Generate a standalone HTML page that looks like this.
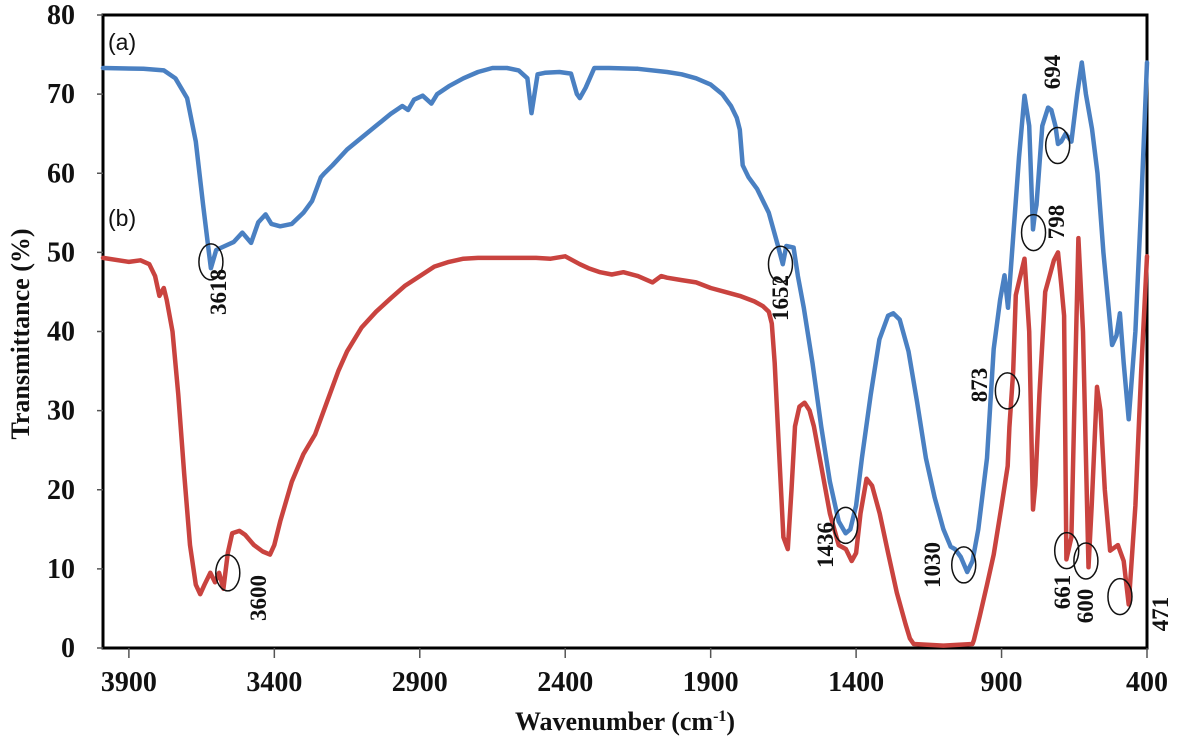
<!DOCTYPE html>
<html><head><meta charset="utf-8"><style>
body{margin:0;background:#fff;}
svg{display:block;}
.tick{font-family:"Liberation Serif",serif;font-weight:bold;font-size:28px;fill:#111;}
.ann{font-family:"Liberation Serif",serif;font-weight:bold;font-size:23px;fill:#111;}
.ttl{font-family:"Liberation Serif",serif;font-weight:bold;font-size:26px;fill:#111;}
.lab{font-family:"Liberation Sans",sans-serif;font-size:23px;fill:#111;}
</style></head><body>
<svg id="chart" width="1181" height="745" viewBox="0 0 1181 745">
<g id="grid"></g>
<g id="series"></g>
<g id="annots"></g>
</svg>
<script>
const xTicks=[3900,3400,2900,2400,1900,1400,900,400];
const yTicks=[0,10,20,30,40,50,60,70,80];
const waveA=[3989,3850,3780,3740,3700,3670,3645,3625,3618,3600,3570,3540,3510,3480,3455,3430,3410,3380,3340,3300,3270,3240,3228,3200,3150,3100,3050,3000,2960,2940,2920,2890,2860,2840,2800,2750,2700,2650,2600,2560,2530,2516,2495,2470,2420,2380,2360,2350,2330,2300,2250,2150,2050,2000,1950,1900,1860,1830,1810,1800,1790,1770,1740,1700,1670,1652,1640,1615,1600,1580,1550,1520,1490,1460,1436,1420,1400,1380,1350,1320,1290,1272,1250,1220,1190,1160,1130,1100,1075,1060,1040,1018,1000,980,950,927,905,890,878,860,840,821,805,792,785,780,760,740,729,715,706,695,680,660,640,624,610,589,570,550,520,505,493,480,463,440,420,400];
const valA=[73.3,73.2,73.0,72.0,69.5,64,56,50,48,50.3,50.8,51.3,52.5,51.2,53.8,54.8,53.6,53.3,53.6,55,56.5,59.5,60,61,63,64.5,66,67.5,68.5,68,69.3,69.8,68.8,70,71,72,72.8,73.3,73.3,73,72,67.6,72.5,72.7,72.8,72.6,70,69.5,70.8,73.3,73.3,73.2,72.8,72.5,72,71.2,70,68.5,67,65.5,61,59.5,58,55,51,48.5,50.8,50.6,47,43,36,28,21,16,14.5,15,18,24,32,39,42,42.3,41.5,37.5,31,24,19,15,12.8,12.5,11.5,9.6,11,15,24,37.8,44,47.1,43,52,62,69.8,66,52.9,55,56,66,68.3,68,66,63.7,64,65,64,70,74,70,65.6,60,50,38.3,39.5,42.3,36,28.9,40,56,74];
const waveB=[3989,3900,3860,3830,3810,3795,3780,3770,3750,3730,3710,3690,3670,3655,3640,3620,3604,3590,3575,3560,3545,3520,3500,3470,3440,3415,3400,3380,3340,3300,3260,3220,3180,3150,3100,3050,3000,2950,2900,2850,2800,2750,2700,2600,2500,2450,2400,2350,2320,2280,2240,2200,2150,2100,2070,2050,2000,1950,1900,1850,1800,1750,1720,1700,1690,1680,1665,1650,1635,1622,1610,1595,1577,1560,1545,1520,1490,1460,1435,1415,1400,1385,1364,1345,1319,1290,1260,1230,1215,1202,1100,1000,995,975,950,927,900,879,873,860,851,821,805,792,784,770,750,720,706,695,685,677,660,650,636,620,601,590,572,560,545,527,500,480,463,440,420,400];
const valB=[49.3,48.8,49,48.5,47,44.5,45.5,44,40,32,22,13,8,6.8,8,9.5,8.3,9.5,7.5,12,14.5,14.8,14.3,13,12.2,11.8,13,16,21,24.5,27,31,35,37.5,40.5,42.5,44.2,45.8,47,48.2,48.8,49.2,49.3,49.3,49.3,49.2,49.5,48.5,48,47.5,47.2,47.5,47,46.2,47,46.8,46.5,46.2,45.5,45,44.5,43.8,43.2,42.5,41,36,25,14,12.5,20,28,30.5,31,30,28,23,17,13,12.5,11,12,17,21.4,20.5,17,12,7,3,1.2,0.5,0.3,0.5,1,4,8,11.8,18,23,27.9,35,44.6,49.2,40,17.5,20.6,32,45,49,50,46,42,11.2,14,30,51.8,40,10.2,18,33,30,20,12.3,13,11,5.5,18,35,49.5];
const annVals=[{v:3618,t:48.8,label:"3618",lx:218,ly:292},{v:3560,t:9.5,label:"3600",lx:258,ly:598},{v:1660,t:48.5,label:"1652",lx:780,ly:298},{v:1436,t:15.5,label:"1436",lx:825,ly:545},{v:1030,t:10.5,label:"1030",lx:932,ly:565},{v:880,t:32.5,label:"873",lx:979,ly:385},{v:790,t:52.5,label:"798",lx:1056,ly:222},{v:707,t:63.5,label:"694",lx:1052,ly:72},{v:676,t:12.3,label:"661",lx:1062,ly:592},{v:610,t:11,label:"600",lx:1085,ly:606},{v:493,t:6.5,label:"471",lx:1160,ly:614}];
const X0=103,X1=1147,Y0=648,YT=15;
function xs(v){return X1-(v-400)*(X1-X0)/(3989-400);}
function ys(t){return Y0-t*(Y0-YT)/80;}
const NS="http://www.w3.org/2000/svg";
function mk(tag,parent,attrs){const e=document.createElementNS(NS,tag);for(const k in attrs)e.setAttribute(k,attrs[k]);parent.appendChild(e);return e;}
const grid=document.getElementById('grid'),ser=document.getElementById('series'),ann=document.getElementById('annots');
const frame=mk('rect',grid,{x:X0,y:YT,width:X1-X0,height:Y0-YT,fill:'none',stroke:'#000','stroke-width':3});


yTicks.forEach(t=>{
 const l=mk('line',grid,{x1:X0-6,x2:X0,y1:ys(t),y2:ys(t),stroke:'#555','stroke-width':1.5});
 
 
 const tx=mk('text',grid,{x:X0-28,y:ys(t)+9,'text-anchor':'end',class:'tick'});tx.textContent=t;
 
 
});
xTicks.forEach(v=>{
 const l=mk('line',grid,{x1:xs(v),x2:xs(v),y1:Y0,y2:Y0+10,stroke:'#555','stroke-width':1.5});
 
 
 const tx=mk('text',grid,{x:xs(v),y:Y0+43,'text-anchor':'middle',class:'tick'});tx.textContent=v;
 
 
});
const xt=mk('text',grid,{x:625,y:730,'text-anchor':'middle',class:'ttl'});
xt.innerHTML='Wavenumber  (cm<tspan dy="-9" font-size="16">-1</tspan><tspan dy="9">)</tspan>';


const yt=mk('text',grid,{x:0,y:0,'text-anchor':'middle',class:'ttl',transform:'translate(29,334) rotate(-90)'});
yt.textContent='Transmittance  (%)';


function line(w,v,col,name){
 const pts=w.map((a,i)=>xs(a).toFixed(1)+','+ys(v[i]).toFixed(1)).join(' ');
 const p=mk('polyline',ser,{points:pts,fill:'none',stroke:col,'stroke-width':4.5,'stroke-linejoin':'round','stroke-linecap':'round'});
 
 
}
line(waveB,valB,'#c9433f','series-b-line');
line(waveA,valA,'#4a80c2','series-a-line');
const la=mk('text',ann,{x:108,y:50,class:'lab'});la.textContent='(a)';


const lb=mk('text',ann,{x:108,y:226,class:'lab'});lb.textContent='(b)';


annVals.forEach(a=>{
 const c=mk('ellipse',ann,{cx:xs(a.v),cy:ys(a.t),rx:12,ry:18,fill:'none',stroke:'#111','stroke-width':1.5});
 
 
 const t=mk('text',ann,{x:0,y:0,'text-anchor':'middle',class:'ann',transform:`translate(${a.lx+8},${a.ly}) rotate(-90)`});
 t.textContent=a.label;
 
 
});
</script>
</body></html>
